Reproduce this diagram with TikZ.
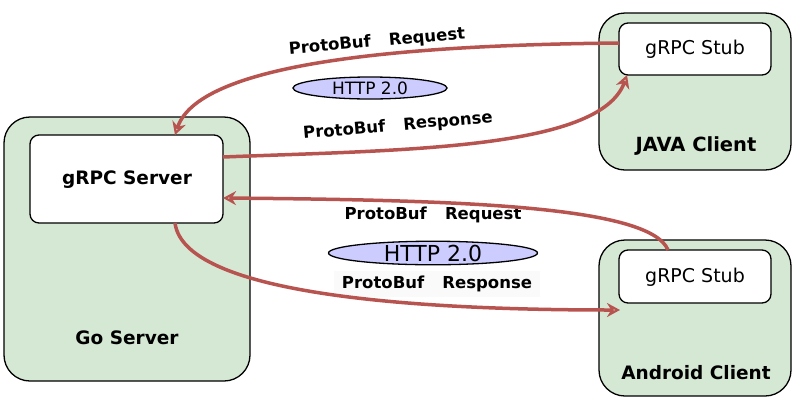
\documentclass[tikz,border=0pt]{standalone}
\usepackage{fontspec}
\setmainfont{DejaVu Sans}
\usetikzlibrary{arrows.meta,shapes.geometric}
\definecolor{boxgreen}{HTML}{D5E8D4}
\definecolor{arrowred}{HTML}{B85450}
\definecolor{ellfill}{HTML}{CCCCFF}
\tikzset{
  outerbox/.style={draw=black, line width=1.3pt, fill=boxgreen, rounded corners=26pt},
  innerbox/.style={draw=black, line width=1.3pt, fill=white, rounded corners=9pt},
  lbl/.style={font=\fontsize{16.5}{19}\selectfont\bfseries, inner sep=1pt},
  title/.style={font=\fontsize{18.5}{21}\selectfont\bfseries},
  stub/.style={font=\fontsize{19}{22}\selectfont},
  httpell/.style={ellipse, draw=black, line width=1.3pt, fill=ellfill, inner sep=0pt, font=\fontsize{17}{20}\selectfont},
  flow/.style={draw=arrowred, line width=3.5pt, -{Stealth[open, length=13pt, width=14pt, line width=2.2pt]}},
}
\begin{document}
\begin{tikzpicture}[x=1pt,y=-1pt]
\useasboundingbox[fill=white] (0,0) rectangle (797,405);
% Go server
\draw[outerbox] (4,117) rectangle (250,381);
\draw[innerbox] (30,135) rectangle (223,223);
\node[title] (srvt) at (127,180) {gRPC Server};
\coordinate (srvtop) at (175,135);
\coordinate (srvright1) at (223,157);
\coordinate (srvright2) at (223,198);
\coordinate (srvbot) at (175,223);
\node[title] (gos) at (127,338) {Go Server};
% Java client
\draw[outerbox] (599,13) rectangle (791,170);
\draw[innerbox] (619,23) rectangle (771,75);
\node[stub] (jstub) at (695,49) {gRPC Stub};
\coordinate (jleft) at (619,43);
\coordinate (jbot) at (627,75);
\node[title, font=\fontsize{19.5}{22}\selectfont\bfseries] (jc) at (696,146) {JAVA Client};
% Android client
\draw[outerbox] (599,240) rectangle (791,396);
\draw[innerbox] (619,250) rectangle (771,303);
\node[stub] (astub) at (695,277) {gRPC Stub};
\coordinate (atop) at (668,250);
\coordinate (ain) at (620,310);
\node[title] (ac) at (696,373) {Android Client};
% labels
\node[lbl, rotate=5] (l1) at (377,42) {ProtoBuf\hspace{1.1em}Request};
\node[lbl, rotate=5] (l2) at (398,126) {ProtoBuf\hspace{1.1em}Response};
\node[lbl] (l3) at (433,215) {ProtoBuf\hspace{1.1em}Request};
\node[lbl, fill=black!2, minimum width=206pt, minimum height=26pt] (l4) at (437,284) {ProtoBuf\hspace{1.1em}Response};
% ellipses
\node[httpell, minimum width=154pt, minimum height=22pt] (h1) at (370,88) {HTTP 2.0};
\node[httpell, minimum width=209pt, minimum height=23pt, font=\fontsize{22}{24}\selectfont] (h2) at (433,253) {HTTP 2.0};
% arrows
\draw[flow] (jleft) .. controls (420,45) and (200,60) .. (srvtop);
\draw[flow] (srvright1) .. controls (400,150) and (600,150) .. (jbot);
\draw[flow] (atop) .. controls (650,205) and (450,200) .. (srvright2);
\draw[flow] (srvbot) .. controls (185,300) and (450,310) .. (ain);
\end{tikzpicture}
\end{document}
